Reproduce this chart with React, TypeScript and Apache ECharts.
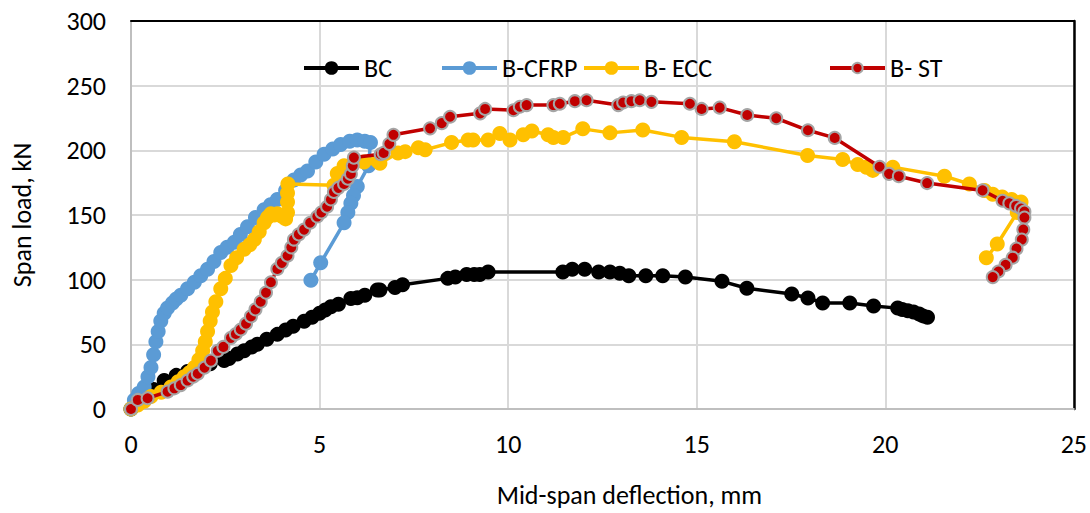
import React, { useEffect, useRef } from "react";
import * as echarts from "echarts";

const seriesNames = ["BC", "B-CFRP", "B- ECC", "B- ST"];
const xTicks = { min: 0, max: 25, interval: 5 };
const yTicks = { min: 0, max: 300, interval: 50 };

const bc: number[][] = [
  [0, 0], [0.3, 7], [0.6, 15], [0.88, 22], [1.2, 26], [1.5, 29], [1.77, 32], [2.1, 35], [2.47, 37.5], [2.6, 39],
  [2.82, 42.5], [3.0, 45], [3.2, 48], [3.35, 50], [3.6, 54], [3.88, 57.7], [4.1, 61], [4.3, 64], [4.59, 67.8], [4.8, 71],
  [5.0, 74], [5.15, 76.5], [5.3, 79], [5.5, 81], [5.83, 85.5], [6.0, 86], [6.2, 88], [6.53, 92], [6.6, 92], [7.0, 94],
  [7.2, 96], [8.4, 101], [8.6, 102], [8.9, 104], [9.1, 104], [9.25, 104], [9.47, 106], [11.45, 106], [11.7, 108], [12.03, 108],
  [12.4, 106], [12.7, 106], [12.96, 105], [13.2, 103], [13.65, 103], [14.1, 103], [14.7, 102], [15.67, 98.7], [16.33, 93.4],
  [17.52, 88.9], [17.95, 85.8], [18.34, 82], [19.06, 82], [19.69, 79.7], [20.33, 78], [20.45, 77], [20.6, 76], [20.75, 75],
  [20.9, 73.5], [21.0, 72], [21.12, 71],
];

const cfrp: number[][] = [
  [0, 0], [0.09, 7], [0.2, 12], [0.35, 17], [0.45, 25], [0.53, 32], [0.6, 42], [0.66, 52], [0.72, 60], [0.79, 68],
  [0.88, 74], [0.97, 78], [1.1, 82], [1.2, 85], [1.32, 88], [1.5, 93], [1.68, 98], [1.85, 103], [2.03, 108], [2.2, 114],
  [2.38, 121], [2.55, 125], [2.74, 129], [2.9, 135], [3.09, 141], [3.3, 148], [3.53, 154], [3.7, 158], [3.88, 162],
  [4.1, 169], [4.32, 177], [4.5, 181], [4.68, 184], [4.9, 191], [5.12, 197], [5.35, 201], [5.56, 204.5], [5.8, 207],
  [6.0, 208], [6.2, 207], [6.35, 206], [6.3, 188], [6.0, 172], [5.9, 165], [5.83, 159], [5.75, 152], [5.65, 144],
  [5.03, 113], [4.77, 99.5],
];

const ecc: number[][] = [
  [0, 0], [0.18, 3], [0.35, 6], [0.53, 9.6], [0.8, 13], [1.06, 17], [1.25, 21], [1.41, 25], [1.55, 28], [1.68, 32],
  [1.8, 38], [1.9, 45], [1.97, 52], [2.03, 60], [2.1, 68], [2.16, 75], [2.25, 83], [2.38, 93], [2.5, 101], [2.65, 111],
  [2.8, 117], [3.0, 123.5], [3.15, 127], [3.27, 131], [3.4, 137], [3.53, 144], [3.62, 148], [3.71, 151], [3.8, 150],
  [3.88, 151], [4.0, 149], [4.1, 147], [4.15, 152], [4.15, 160], [4.15, 167], [4.16, 174], [5.38, 173], [5.47, 182],
  [5.65, 188], [5.9, 190], [6.18, 191], [6.53, 192], [6.6, 190], [7.08, 198], [7.27, 199], [7.62, 202], [7.8, 200.5],
  [8.5, 206], [8.94, 208], [9.07, 208], [9.47, 208], [9.78, 213], [10.05, 208], [10.4, 212], [10.63, 215], [11.06, 212],
  [11.2, 210], [11.46, 210], [11.98, 216.6], [12.7, 213.5], [13.57, 215.7], [14.6, 210], [16.0, 206.6], [17.94, 196],
  [18.87, 193], [19.27, 189], [19.5, 187], [19.67, 184.5], [20.2, 187], [21.57, 180], [22.23, 174], [22.63, 169],
  [22.85, 166], [23.1, 164], [23.35, 162], [23.6, 160], [23.5, 152], [22.97, 127.6], [22.68, 117],
];

const st: number[][] = [
  [0, 0], [0.18, 7], [0.44, 8.3], [0.97, 13.4], [1.15, 16], [1.32, 18.5], [1.5, 22], [1.65, 25], [1.77, 27.3], [1.95, 32],
  [2.12, 37.4], [2.3, 45], [2.45, 48], [2.65, 55], [2.78, 58], [2.91, 61.5], [3.05, 66], [3.18, 71.6], [3.3, 77],
  [3.44, 83], [3.58, 90], [3.71, 98], [3.88, 108.3], [4.0, 113], [4.15, 118.5], [4.25, 125], [4.32, 131], [4.45, 135],
  [4.59, 138.7], [4.75, 144], [4.94, 148.8], [5.05, 152], [5.2, 156.4], [5.3, 162], [5.38, 167.8], [5.5, 171],
  [5.65, 174], [5.75, 178], [5.83, 181.7], [5.88, 188], [5.91, 194.4], [6.62, 197], [6.7, 198], [6.85, 205], [6.96, 212],
  [7.93, 217], [8.24, 221], [8.46, 226], [9.26, 228.6], [9.39, 232], [10.14, 231], [10.31, 233.7], [10.49, 235],
  [11.2, 235], [11.37, 236], [11.77, 238], [12.08, 238.7], [12.92, 235], [13.05, 237], [13.27, 238], [13.49, 238.7],
  [13.8, 237.5], [14.82, 236], [15.13, 232], [15.61, 233], [16.34, 227.3], [17.11, 224.8], [17.95, 215.5], [18.66, 209.6],
  [19.85, 187.3], [20.1, 181.8], [20.36, 180], [21.11, 174.7], [22.58, 169], [23.11, 161], [23.29, 159], [23.47, 157],
  [23.6, 155], [23.69, 152.6], [23.69, 148], [23.66, 138.7], [23.62, 131], [23.48, 124], [23.38, 117], [23.19, 111.4],
  [23.0, 106.3], [22.85, 102],
];

const FONT = "Carlito, 'Liberation Sans Narrow', 'Liberation Sans', sans-serif";

export default function App() {
  const ref = useRef<HTMLDivElement>(null);
  useEffect(() => {
    if (!ref.current) return;
    const chart = echarts.init(ref.current, undefined, { renderer: "svg" });
    const legendPos = [302, 440, 582, 828];
    const colors = ["#000000", "#5B9BD5", "#FFC000", "#C00000"];
    const datasets = [bc, cfrp, ecc, st];
    chart.setOption({
      animation: false,
      backgroundColor: "#ffffff",
      textStyle: { fontFamily: FONT },
      grid: { left: 131, right: 16, top: 21, bottom: 97, containLabel: false },
      legend: seriesNames.map((n, i) => ({
        data: [n],
        left: legendPos[i],
        top: 55,
        padding: 0,
        itemWidth: 55,
        itemHeight: i === 3 ? 13 : 17,
        lineStyle: { width: 4 },
        textStyle: { fontSize: 26, color: "#000", fontFamily: FONT },
        selectedMode: false,
      })),
      xAxis: [
        {
          type: "value",
          min: xTicks.min,
          max: xTicks.max,
          interval: xTicks.interval,
          name: "Mid-span deflection, mm",
          nameLocation: "middle",
          nameGap: 73,
          nameTextStyle: { fontSize: 26, color: "#000", fontFamily: FONT, padding: [0, 0, 0, 54] },
          axisLine: { show: true, onZero: false, lineStyle: { color: "#BFBFBF", width: 2 } },
          axisTick: { show: false },
          axisLabel: { fontSize: 26, color: "#000", margin: 22, fontFamily: FONT },
          splitLine: { show: true, lineStyle: { color: "#D9D9D9", width: 2 } },
        },
        {
          type: "value",
          position: "top",
          min: xTicks.min,
          max: xTicks.max,
          interval: xTicks.interval,
          axisLine: { show: true, onZero: false, lineStyle: { color: "#000", width: 2 } },
          axisTick: { show: false },
          axisLabel: { show: false },
          splitLine: { show: false },
        },
      ],
      yAxis: [
        {
          type: "value",
          min: yTicks.min,
          max: yTicks.max,
          interval: yTicks.interval,
          name: "Span load, kN",
          nameLocation: "middle",
          nameGap: 96,
          nameRotate: 90,
          nameTextStyle: { fontSize: 26, color: "#000", fontFamily: FONT },
          axisLine: { show: true, onZero: false, lineStyle: { color: "#BFBFBF", width: 2 } },
          axisTick: { show: false },
          axisLabel: { fontSize: 26, color: "#000", margin: 25, fontFamily: FONT },
          splitLine: { show: true, lineStyle: { color: "#D9D9D9", width: 2 } },
        },
        {
          type: "value",
          position: "right",
          min: yTicks.min,
          max: yTicks.max,
          interval: yTicks.interval,
          axisLine: { show: true, onZero: false, lineStyle: { color: "#000", width: 2.5 } },
          axisTick: { show: false },
          axisLabel: { show: false },
          splitLine: { show: false },
        },
      ],
      series: seriesNames.map((n, i) => ({
        name: n,
        type: "line",
        data: datasets[i],
        xAxisIndex: 0,
        yAxisIndex: 0,
        symbol: "circle",
        symbolSize: i === 3 ? 12 : 15,
        showSymbol: true,
        lineStyle: { color: colors[i], width: 3.5 },
        itemStyle:
          i === 3
            ? { color: colors[i], borderColor: "#A5A5A5", borderWidth: 2 }
            : { color: colors[i], borderWidth: 0 },
        emphasis: { disabled: true },
        z: 2 + i,
      })),
    });
    return () => chart.dispose();
  }, []);
  return (
    <div
      ref={ref}
      style={{ position: "absolute", left: 0, top: 0, width: 1090, height: 513 }}
    />
  );
}
